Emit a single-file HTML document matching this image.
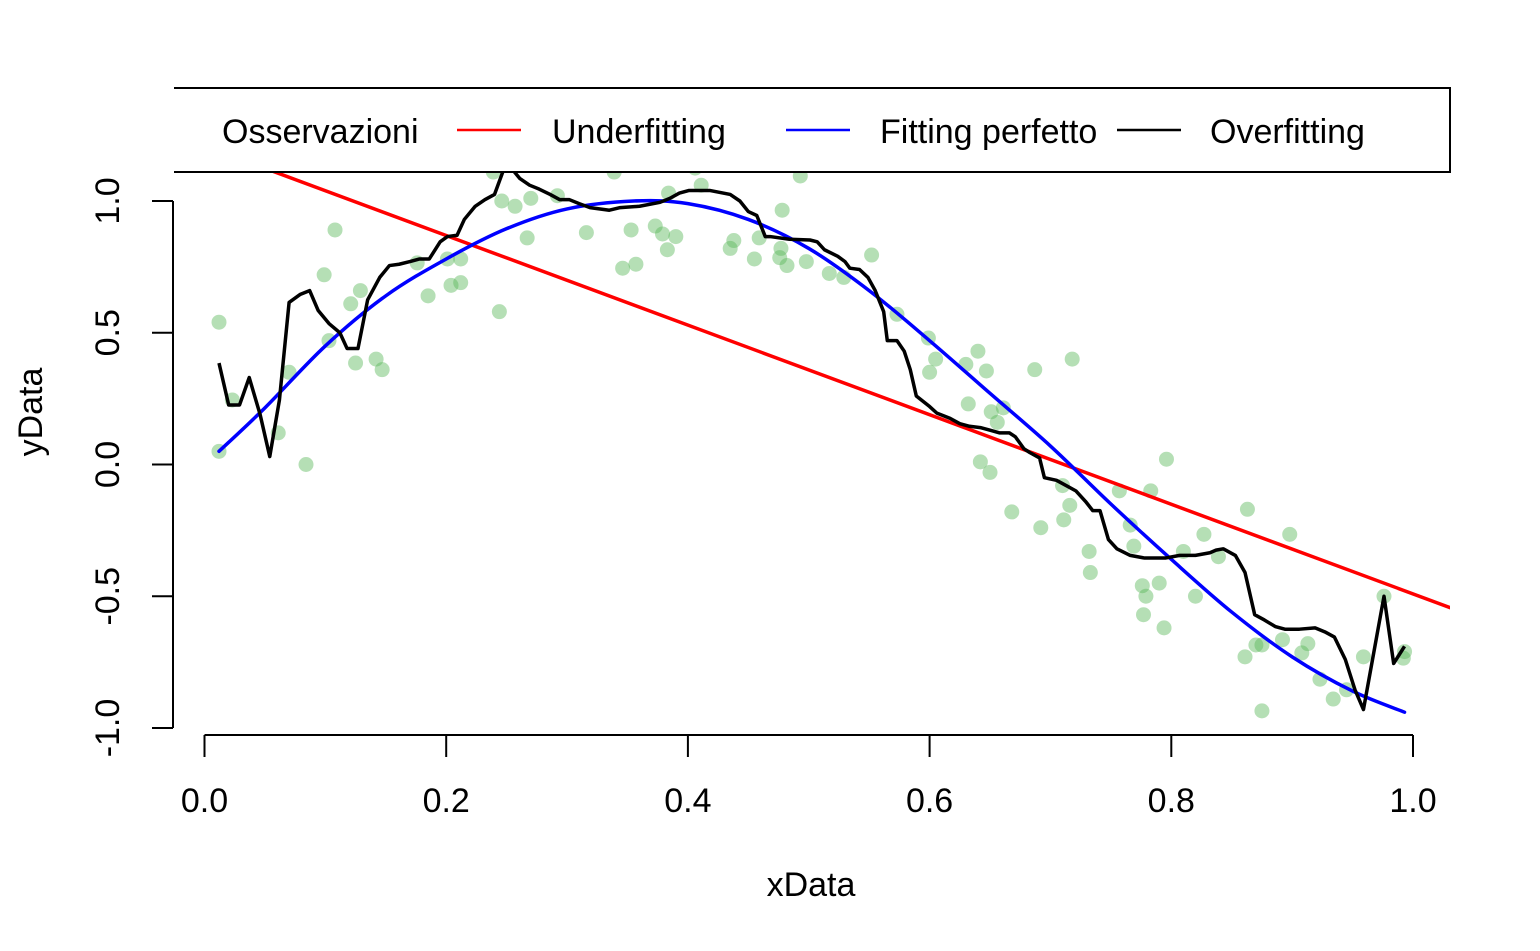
<!DOCTYPE html>
<html><head><meta charset="utf-8"><style>
body{margin:0;background:#fff;}
svg{display:block;font-family:"Liberation Sans",Arial,sans-serif;}
</style></head><body>
<svg id="chart" width="1540" height="951" viewBox="0 0 1540 951">
<defs><clipPath id="clip"><rect x="174" y="60" width="1276" height="690"/></clipPath></defs>
<g id="plot" clip-path="url(#clip)"></g>
<g id="axes"></g>
<g id="legend"></g>
</svg>
<script>
const obsX=[.012,.012,.023,.061,.070,.084,.099,.103,.108,.121,.125,.129,.142,.147,.176,.185,.201,.204,.212,.212,.244,.239,.246,.257,.267,.270,.292,.316,.339,.346,.353,.357,.373,.379,.383,.390,.384,.406,.411,.435,.438,.455,.459,.478,.476,.477,.482,.493,.498,.517,.529,.552,.573,.599,.600,.605,.630,.640,.632,.647,.651,.642,.650,.656,.661,.668,.687,.692,.718,.711,.716,.710,.732,.733,.757,.766,.769,.783,.796,.776,.779,.777,.790,.794,.810,.820,.827,.839,.861,.863,.870,.875,.875,.892,.898,.908,.913,.923,.934,.945,.959,.976,.993,.992];
const obsY=[.54,.05,.245,.12,.35,.00,.72,.47,.89,.61,.385,.66,.40,.36,.765,.64,.78,.68,.69,.78,.58,1.11,1.00,.98,.86,1.01,1.02,.88,1.11,.745,.89,.76,.905,.875,.815,.865,1.03,1.125,1.06,.82,.85,.78,.86,.965,.785,.82,.755,1.095,.77,.725,.71,.795,.57,.48,.35,.40,.38,.43,.23,.355,.20,.01,-.03,.16,.215,-.18,.36,-.24,.40,-.21,-.155,-.08,-.33,-.41,-.10,-.23,-.31,-.10,.02,-.46,-.50,-.57,-.45,-.62,-.33,-.50,-.265,-.35,-.73,-.17,-.685,-.685,-.935,-.665,-.265,-.715,-.68,-.815,-.89,-.855,-.73,-.50,-.71,-.735];
const underCoef=[1.209,-1.70];
const fitX=[.012,.05,.1,.15,.2,.25,.3,.355,.4,.45,.5,.55,.6,.65,.7,.75,.8,.85,.9,.95,.993];
const fitY=[.05,.215,.45,.64,.78,.895,.97,1.0,.99,.93,.82,.66,.47,.27,.07,-.15,-.36,-.56,-.73,-.86,-.94];
const overX=[.012,.020,.029,.037,.046,.054,.062,.070,.079,.087,.094,.103,.112,.118,.127,.135,.145,.153,.161,.170,.178,.186,.195,.201,.209,.215,.224,.232,.240,.248,.252,.261,.269,.277,.286,.294,.302,.310,.319,.335,.344,.360,.377,.385,.393,.401,.410,.418,.435,.443,.450,.457,.464,.468,.484,.501,.507,.513,.524,.530,.534,.542,.549,.555,.562,.565,.573,.579,.584,.589,.600,.606,.617,.625,.633,.642,.650,.658,.666,.671,.678,.683,.691,.695,.705,.713,.721,.729,.735,.741,.748,.755,.766,.778,.795,.807,.820,.832,.837,.843,.853,.861,.869,.877,.886,.894,.906,.919,.927,.935,.944,.952,.959,.976,.984,.993];
const overY=[.385,.226,.226,.33,.19,.03,.245,.615,.645,.66,.585,.535,.50,.44,.44,.625,.71,.755,.76,.77,.78,.78,.845,.865,.87,.93,.98,1.005,1.025,1.125,1.135,1.085,1.06,1.045,1.025,1.005,1.005,.99,.975,.965,.975,.98,.995,1.01,1.03,1.04,1.04,1.04,1.025,1.00,.96,.945,.865,.865,.855,.852,.845,.815,.79,.77,.745,.74,.71,.66,.58,.47,.47,.43,.36,.26,.22,.195,.175,.155,.145,.14,.13,.12,.12,.105,.06,.045,.025,-.05,-.06,-.08,-.10,-.14,-.175,-.175,-.285,-.32,-.345,-.355,-.355,-.345,-.345,-.335,-.325,-.32,-.345,-.41,-.57,-.59,-.615,-.625,-.625,-.62,-.635,-.655,-.74,-.855,-.93,-.50,-.755,-.69];
const xTicks=[0,0.2,0.4,0.6,0.8,1.0];
const xTickLabels=["0.0","0.2","0.4","0.6","0.8","1.0"];
const yTicks=[-1,-0.5,0,0.5,1];
const yTickLabels=["-1.0","-0.5","0.0","0.5","1.0"];
const legendLabels=["Osservazioni","Underfitting","Fitting perfetto","Overfitting"];

const NS="http://www.w3.org/2000/svg";
const X=v=>204.5+v*1208.5;
const Y=v=>464.5-v*263.5;
function mk(tag,attrs,parent){const e=document.createElementNS(NS,tag);for(const k in attrs)e.setAttribute(k,attrs[k]);parent.appendChild(e);return e;}
const plot=document.getElementById('plot'),axes=document.getElementById('axes'),leg=document.getElementById('legend');

obsX.forEach((x,i)=>{const c=mk('circle',{cx:X(x),cy:Y(obsY[i]),r:7.5,fill:'rgb(90,185,90)','fill-opacity':0.45},plot);

});

const x0=-0.03,x1=1.06;
const red=mk('line',{x1:X(x0),y1:Y(underCoef[0]+underCoef[1]*x0),x2:X(x1),y2:Y(underCoef[0]+underCoef[1]*x1),stroke:'#ff0000','stroke-width':3.5},plot);



// smooth Catmull-Rom path for fitted curve
const P=fitX.map((x,i)=>[X(x),Y(fitY[i])]);
let d='M'+P[0][0]+','+P[0][1];
for(let i=0;i<P.length-1;i++){
 const p0=P[Math.max(i-1,0)],p1=P[i],p2=P[i+1],p3=P[Math.min(i+2,P.length-1)];
 const c1=[p1[0]+(p2[0]-p0[0])/6,p1[1]+(p2[1]-p0[1])/6];
 const c2=[p2[0]-(p3[0]-p1[0])/6,p2[1]-(p3[1]-p1[1])/6];
 d+=` C${c1[0]},${c1[1]} ${c2[0]},${c2[1]} ${p2[0]},${p2[1]}`;
}
const blue=mk('path',{d:d,fill:'none',stroke:'#0000ff','stroke-width':3.5,'stroke-linecap':'round'},plot);



const blk=mk('polyline',{points:overX.map((x,i)=>X(x)+','+Y(overY[i])).join(' '),fill:'none',stroke:'#000','stroke-width':3.5,'stroke-linejoin':'round'},plot);



// axes
const ya=mk('line',{x1:173,y1:Y(-1),x2:173,y2:Y(1),stroke:'#000','stroke-width':2},axes);


yTicks.forEach((t,i)=>{
 const l=mk('line',{x1:152,y1:Y(t),x2:173,y2:Y(t),stroke:'#000','stroke-width':2},axes);
 
 
 const tx=mk('text',{x:0,y:0,transform:`translate(119,${Y(t)}) rotate(-90)`,'text-anchor':'middle','font-size':34},axes);
 tx.textContent=yTickLabels[i];
 
 
});
const xa=mk('line',{x1:X(0),y1:735,x2:X(1),y2:735,stroke:'#000','stroke-width':2},axes);


xTicks.forEach((t,i)=>{
 const l=mk('line',{x1:X(t),y1:735,x2:X(t),y2:757,stroke:'#000','stroke-width':2},axes);
 
 
 const tx=mk('text',{x:X(t),y:812,'text-anchor':'middle','font-size':34},axes);
 tx.textContent=xTickLabels[i];
 
 
});
const xt=mk('text',{x:811,y:896,'text-anchor':'middle','font-size':34},axes);
xt.textContent='xData';


const yt=mk('text',{x:0,y:0,transform:'translate(42,412) rotate(-90)','text-anchor':'middle','font-size':34},axes);
yt.textContent='yData';



// legend (box extends left beyond plot; left border not visible)
const box=mk('rect',{x:174,y:88,width:1276,height:84,fill:'#fff'},leg);


const border=mk('path',{d:'M174,88 H1450 V172 H174',fill:'none',stroke:'#000','stroke-width':2},leg);


const entries=[{tx:222,col:null},{tx:552,col:'#ff0000',lx:457},{tx:880,col:'#0000ff',lx:786},{tx:1210,col:'#000',lx:1117}];
entries.forEach((e,i)=>{
 if(e.col){const l=mk('line',{x1:e.lx,y1:130,x2:e.lx+64,y2:130,stroke:e.col,'stroke-width':2.5},leg);
 
 }
 const t=mk('text',{x:e.tx,y:143,'font-size':34},leg);
 t.textContent=legendLabels[i];
 
 
});
</script>
</body></html>
